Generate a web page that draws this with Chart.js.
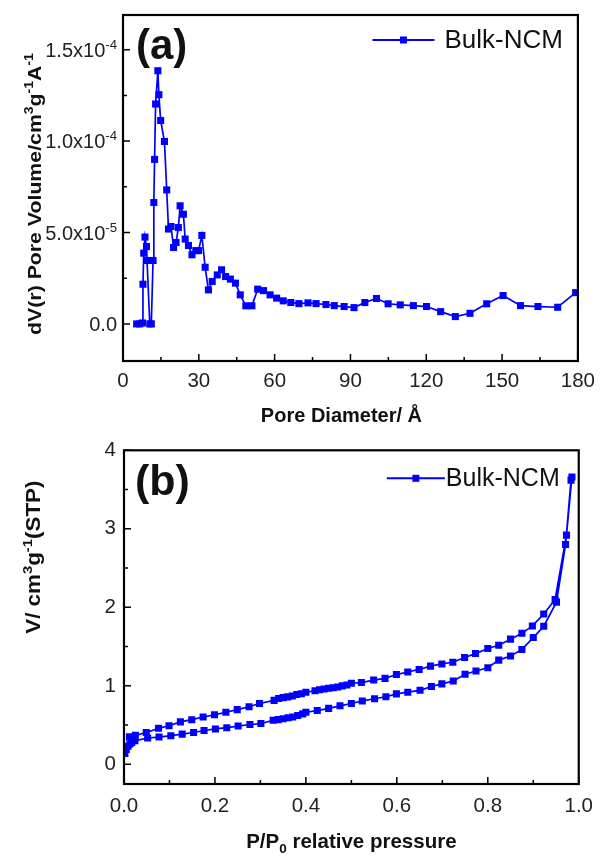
<!DOCTYPE html>
<html><head><meta charset="utf-8">
<script src="https://cdn.jsdelivr.net/npm/chart.js@4.4.1/dist/chart.umd.min.js"></script>
<style>
html,body{margin:0;padding:0;background:#fff;}
#wa{position:absolute;left:0;top:0;width:603px;height:430px;}
#wb{position:absolute;left:0;top:430px;width:603px;height:426px;}
</style></head><body>
<div id="wa"><canvas id="ca" width="603" height="430"></canvas></div>
<div id="wb"><canvas id="cb" width="603" height="426"></canvas></div>
<script>
// ---------- data ----------
const seriesName = 'Bulk-NCM';

// (a) pore size distribution
const poreDiameter = [5.4, 6.6, 7.7, 7.9, 8.2, 8.7, 9.3, 9.5, 10.6, 11.2, 11.9, 12.2, 12.5, 12.9, 13.8, 14.2, 14.9, 16.4, 17.3, 18.0, 19.0, 20.0, 21.0, 21.9, 22.6, 23.9, 24.6, 25.9, 27.3, 28.8, 29.9, 31.2, 32.5, 33.8, 35.3, 37.3, 39.0, 40.6, 42.5, 44.5, 46.4, 48.6, 51.0, 53.3, 55.6, 58.2, 60.8, 63.4, 66.4, 69.6, 73.2, 76.4, 80.3, 83.6, 87.5, 91.4, 95.7, 100.3, 104.9, 109.7, 114.9, 120.1, 125.7, 131.5, 137.3, 143.9, 150.4, 157.3, 164.2, 172.0, 179.1];
const poreVolume = [0, 0, 0.05e-5, 2.17e-5, 3.87e-5, 4.75e-5, 4.23e-5, 3.47e-5, 0, 0, 3.47e-5, 6.64e-5, 9.0e-5, 1.203e-4, 1.385e-4, 1.254e-4, 1.113e-4, 0.998e-4, 7.33e-5, 5.19e-5, 5.33e-5, 4.18e-5, 4.45e-5, 5.27e-5, 6.46e-5, 6.0e-5, 4.64e-5, 4.29e-5, 3.78e-5, 4.01e-5, 4.01e-5, 4.84e-5, 3.1e-5, 1.86e-5, 2.32e-5, 2.68e-5, 2.96e-5, 2.59e-5, 2.45e-5, 2.23e-5, 1.59e-5, 0.99e-5, 0.99e-5, 1.9e-5, 1.82e-5, 1.59e-5, 1.41e-5, 1.26e-5, 1.17e-5, 1.11e-5, 1.15e-5, 1.11e-5, 1.06e-5, 1.0e-5, 0.95e-5, 0.89e-5, 1.17e-5, 1.39e-5, 1.1e-5, 1.04e-5, 1.0e-5, 0.95e-5, 0.67e-5, 0.4e-5, 0.58e-5, 1.1e-5, 1.55e-5, 1.0e-5, 0.95e-5, 0.91e-5, 1.71e-5];
const xTicksA = [0, 30, 60, 90, 120, 150, 180];
const xTickLabelsA = ['0', '30', '60', '90', '120', '150', '180'];
const yTicksA = [0, 5e-5, 1e-4, 1.5e-4];
const yTickMantissaA = ['0.0', '5.0x10', '1.0x10', '1.5x10'];
const yTickExponentA = ['', '-5', '-4', '-4'];

// (b) N2 isotherm: adsorption branch then desorption branch
const adsPressure = [0.002, 0.005, 0.009, 0.013, 0.017, 0.024, 0.052, 0.077, 0.103, 0.128, 0.153, 0.176, 0.201, 0.226, 0.251, 0.277, 0.301, 0.328, 0.339, 0.350, 0.361, 0.371, 0.382, 0.393, 0.400, 0.425, 0.450, 0.475, 0.500, 0.524, 0.551, 0.576, 0.599, 0.624, 0.651, 0.676, 0.699, 0.724, 0.750, 0.774, 0.800, 0.824, 0.850, 0.875, 0.900, 0.923, 0.951, 0.971, 0.983];
const adsVolume = [0.14, 0.19, 0.23, 0.26, 0.28, 0.30, 0.336, 0.348, 0.365, 0.385, 0.406, 0.431, 0.451, 0.467, 0.488, 0.508, 0.520, 0.562, 0.570, 0.582, 0.594, 0.603, 0.623, 0.643, 0.664, 0.685, 0.713, 0.746, 0.775, 0.808, 0.836, 0.861, 0.898, 0.919, 0.943, 0.992, 1.025, 1.062, 1.148, 1.189, 1.230, 1.328, 1.381, 1.464, 1.615, 1.759, 2.066, 2.80, 3.62];
const desPressure = [0.985, 0.973, 0.948, 0.923, 0.898, 0.875, 0.850, 0.824, 0.800, 0.773, 0.749, 0.723, 0.699, 0.674, 0.649, 0.624, 0.599, 0.574, 0.549, 0.522, 0.500, 0.490, 0.480, 0.470, 0.460, 0.450, 0.440, 0.430, 0.420, 0.400, 0.390, 0.380, 0.370, 0.360, 0.350, 0.340, 0.330, 0.298, 0.275, 0.249, 0.224, 0.199, 0.174, 0.149, 0.124, 0.099, 0.076, 0.049, 0.025, 0.012];
const desVolume = [3.66, 2.92, 2.10, 1.915, 1.763, 1.669, 1.595, 1.517, 1.476, 1.411, 1.362, 1.300, 1.279, 1.251, 1.209, 1.177, 1.144, 1.095, 1.074, 1.042, 1.033, 1.010, 1.000, 0.985, 0.975, 0.970, 0.960, 0.950, 0.938, 0.919, 0.900, 0.890, 0.870, 0.860, 0.850, 0.840, 0.815, 0.775, 0.734, 0.697, 0.664, 0.631, 0.603, 0.569, 0.541, 0.492, 0.459, 0.406, 0.370, 0.350];
const xTicksB = [0, 0.2, 0.4, 0.6, 0.8, 1.0];
const xTickLabelsB = ['0.0', '0.2', '0.4', '0.6', '0.8', '1.0'];
const yTicksB = [0, 1, 2, 3, 4];
const yTickLabelsB = ['0', '1', '2', '3', '4'];

// ---------- helpers ----------
const FONT = '"Liberation Sans", Arial, Helvetica, sans-serif';
const BLUE = '#0000ff';
const SUP = 0.66;

function richWidth(ctx, segs, size, weight) {
  let w = 0;
  for (const [t, k] of segs) {
    ctx.font = weight + ' ' + (k ? size * SUP : size) + 'px ' + FONT;
    w += ctx.measureText(t).width;
  }
  return w;
}
function drawRich(ctx, segs, x, y, size, weight) {
  let cx = x;
  for (const [t, k] of segs) {
    const s = k ? size * SUP : size;
    ctx.font = weight + ' ' + s + 'px ' + FONT;
    const dy = k === 'sup' ? -size * 0.40 : (k === 'sub' ? size * 0.25 : 0);
    ctx.fillText(t, cx, y + dy);
    cx += ctx.measureText(t).width;
  }
}

const decor = {
  id: 'decor',
  afterDraw(chart, args, o) {
    const ctx = chart.ctx, a = chart.chartArea;
    const xs = chart.scales.x, ys = chart.scales.y;
    ctx.save();
    // inward ticks
    ctx.strokeStyle = '#000';
    ctx.lineWidth = 1.5;
    ctx.beginPath();
    const maj = 7, mnr = 4;
    const drawTicks = (vals, scale, horizontal) => {
      const step = vals[1] - vals[0];
      vals.forEach(v => {
        const p = scale.getPixelForValue(v);
        if (horizontal) { ctx.moveTo(p, a.bottom); ctx.lineTo(p, a.bottom - maj); }
        else { ctx.moveTo(a.left, p); ctx.lineTo(a.left + maj, p); }
      });
      for (let v = vals[0] - step / 2; v <= scale.max + 1e-12; v += step) {
        if (v < scale.min) continue;
        const p = scale.getPixelForValue(v);
        if (horizontal) { ctx.moveTo(p, a.bottom); ctx.lineTo(p, a.bottom - mnr); }
        else { ctx.moveTo(a.left, p); ctx.lineTo(a.left + mnr, p); }
      }
    };
    drawTicks(o.xMajor, xs, true);
    drawTicks(o.yMajor, ys, false);
    ctx.stroke();
    // frame
    ctx.lineWidth = 2.2;
    ctx.strokeRect(a.left, a.top, a.right - a.left, a.bottom - a.top);

    // rich y tick labels (mantissa + superscript exponent)
    if (o.yRich) {
      ctx.fillStyle = '#222';
      ctx.textBaseline = 'alphabetic';
      o.yRich.values.forEach((v, i) => {
        const segs = [[o.yRich.mant[i], ''], [o.yRich.exp[i], 'sup']];
        const w = richWidth(ctx, segs, o.yRich.size, 'normal');
        const p = ys.getPixelForValue(v);
        drawRich(ctx, segs, a.left - o.yRich.pad - w, p + o.yRich.size * 0.36, o.yRich.size, 'normal');
      });
    }

    // panel label
    ctx.fillStyle = '#111';
    ctx.textBaseline = 'alphabetic';
    ctx.font = 'bold ' + o.panel.size + 'px ' + FONT;
    ctx.fillText(o.panel.text, a.left + o.panel.dx, a.top + o.panel.dy);

    // legend
    const L = o.legend;
    ctx.font = L.size + 'px ' + FONT;
    const tw = ctx.measureText(seriesName).width;
    const tx = a.right - L.rightGap - tw;
    const ly = a.top + L.dy;
    ctx.strokeStyle = BLUE; ctx.lineWidth = 2;
    ctx.beginPath();
    ctx.moveTo(tx - L.gap - L.lineLen, ly); ctx.lineTo(tx - L.gap, ly);
    ctx.stroke();
    ctx.fillStyle = BLUE;
    const mx = tx - L.gap - L.lineLen / 2;
    ctx.fillRect(mx - 3.5, ly - 3.5, 7, 7);
    ctx.fillStyle = '#111';
    ctx.textBaseline = 'middle';
    ctx.fillText(seriesName, tx, ly + 1);

    // axis titles
    ctx.textBaseline = 'alphabetic';
    const XT = o.xTitle;
    let w = richWidth(ctx, XT.segs, XT.size, 'bold');
    drawRich(ctx, XT.segs, (a.left + a.right) / 2 + XT.dx - w / 2, a.bottom + XT.dy, XT.size, 'bold');
    const YT = o.yTitle;
    w = richWidth(ctx, YT.segs, YT.size, 'bold');
    ctx.translate(YT.x, (a.top + a.bottom) / 2 + YT.dy);
    ctx.rotate(-Math.PI / 2);
    ctx.scale(YT.stretch, 1);
    drawRich(ctx, YT.segs, -w / 2, YT.size * 0.36, YT.size, 'bold');
    ctx.restore();
  }
};

function fixedTicks(values) {
  return function (scale) { scale.ticks = values.map(v => ({ value: v })); };
}
function labelFrom(values, labels) {
  return function (value) {
    const i = values.findIndex(v => Math.abs(v - value) < 1e-12);
    return i >= 0 ? labels[i] : '';
  };
}

const tickFont = { family: FONT, size: 20.5 };

// ---------- chart (a) ----------
new Chart(document.getElementById('ca'), {
  type: 'scatter',
  data: {
    datasets: [{
      label: seriesName,
      data: poreDiameter.map((d, i) => ({ x: d, y: poreVolume[i] })),
      showLine: true,
      borderColor: BLUE, backgroundColor: BLUE,
      borderWidth: 1.7, tension: 0,
      pointStyle: 'rect', pointRadius: 5, pointBorderWidth: 0,
      pointHoverRadius: 5
    }]
  },
  options: {
    responsive: false, animation: false,
    layout: { padding: { top: 15, right: 20, left: 0, bottom: 0 } },
    plugins: {
      legend: { display: false }, tooltip: { enabled: false },
      decor: {
        xMajor: xTicksA, yMajor: yTicksA,
        yRich: { values: yTicksA, mant: yTickMantissaA, exp: yTickExponentA, size: 20, pad: 6 },
        panel: { text: '(a)', size: 42, dx: 13, dy: 44 },
        legend: { size: 26, rightGap: 15, gap: 10, lineLen: 62, dy: 25 },
        xTitle: { segs: [['Pore Diameter/ ', ''], ['\u00C5', '']], size: 20, dx: -9, dy: 61 },
        yTitle: { segs: [['dV(r) Pore Volume/cm', ''], ['3', 'sup'], ['g', ''], ['-1', 'sup'], ['A', ''], ['-1', 'sup']], size: 19, x: 34, dy: 6, stretch: 1.12 }
      }
    },
    scales: {
      x: {
        type: 'linear', min: 0, max: 180,
        afterBuildTicks: fixedTicks(xTicksA),
        afterFit: s => { s.height = 69; },
        grid: { display: false, drawTicks: false },
        border: { display: false },
        ticks: { font: tickFont, color: '#222', padding: 8, maxRotation: 0, callback: labelFrom(xTicksA, xTickLabelsA) }
      },
      y: {
        type: 'linear', min: -2.03e-5, max: 1.69e-4,
        afterBuildTicks: fixedTicks(yTicksA),
        afterFit: s => { s.width = 123; },
        grid: { display: false, drawTicks: false },
        border: { display: false },
        ticks: { display: false }
      }
    }
  },
  plugins: [decor]
});

// ---------- chart (b) ----------
const isoPressure = adsPressure.concat(desPressure);
const isoVolume = adsVolume.concat(desVolume);
new Chart(document.getElementById('cb'), {
  type: 'scatter',
  data: {
    datasets: [{
      label: seriesName,
      data: isoPressure.map((p, i) => ({ x: p, y: isoVolume[i] })),
      showLine: true,
      borderColor: BLUE, backgroundColor: BLUE,
      borderWidth: 1.7, tension: 0,
      pointStyle: 'rect', pointRadius: 5, pointBorderWidth: 0,
      pointHoverRadius: 5
    }]
  },
  options: {
    responsive: false, animation: false,
    layout: { padding: { top: 9, right: 14, left: 0, bottom: 0 } },
    plugins: {
      legend: { display: false }, tooltip: { enabled: false },
      decor: {
        xMajor: xTicksB, yMajor: yTicksB,
        panel: { text: '(b)', size: 43, dx: 11, dy: 45 },
        legend: { size: 25, rightGap: 19, gap: 1, lineLen: 58, dy: 28 },
        xTitle: { segs: [['P/P', ''], ['0', 'sub'], [' relative pressure', '']], size: 20.5, dx: 0, dy: 64 },
        yTitle: { segs: [['V/ cm', ''], ['3', 'sup'], ['g', ''], ['-1', 'sup'], ['(STP)', '']], size: 20, x: 33, dy: -60, stretch: 1.12 }
      }
    },
    scales: {
      x: {
        type: 'linear', min: 0, max: 1,
        afterBuildTicks: fixedTicks(xTicksB),
        afterFit: s => { s.height = 72; },
        grid: { display: false, drawTicks: false },
        border: { display: false },
        ticks: { font: tickFont, color: '#222', padding: 10, maxRotation: 0, callback: labelFrom(xTicksB, xTickLabelsB) }
      },
      y: {
        type: 'linear', min: -0.25, max: 4,
        afterBuildTicks: fixedTicks(yTicksB),
        afterFit: s => { s.width = 124; },
        grid: { display: false, drawTicks: false },
        border: { display: false },
        ticks: { font: tickFont, color: '#222', padding: 8, callback: labelFrom(yTicksB, yTickLabelsB) }
      }
    }
  },
  plugins: [decor]
});
</script>
</body></html>
